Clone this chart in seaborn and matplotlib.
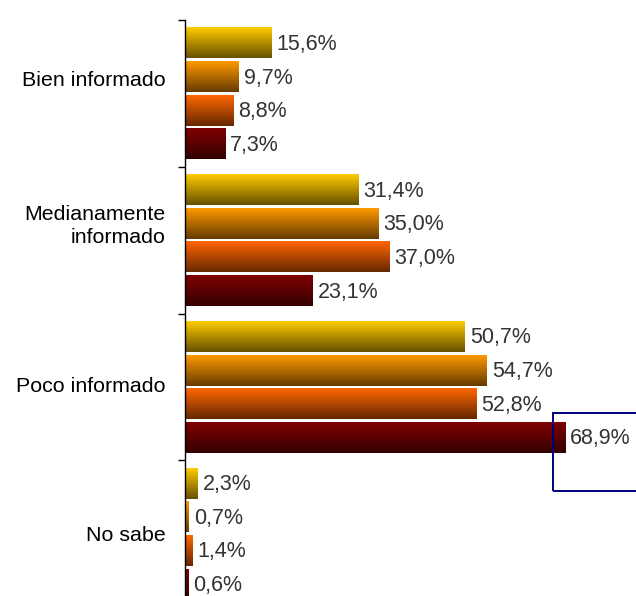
import numpy as np
import pandas as pd
import matplotlib
matplotlib.use("Agg")
import matplotlib.pyplot as plt
import matplotlib.patches as mpatches
import matplotlib.colors as mcolors
import matplotlib.transforms as mtransforms
import seaborn as sns

categories = ["Bien informado", "Medianamente\ninformado", "Poco informado", "No sabe"]
series = ["Serie 1", "Serie 2", "Serie 3", "Serie 4"]
values_s1 = [15.6, 31.4, 50.7, 2.3]
values_s2 = [9.7, 35.0, 54.7, 0.7]
values_s3 = [8.8, 37.0, 52.8, 1.4]
values_s4 = [7.3, 23.1, 68.9, 0.6]
top_colors = ["#FFCC00", "#FF9900", "#FF6600", "#800000"]
bottom_colors = ["#665000", "#663C00", "#662800", "#330000"]

rows = []
for s, vals in zip(series, [values_s1, values_s2, values_s3, values_s4]):
    for c, v in zip(categories, vals):
        rows.append({"cat": c, "serie": s, "val": v})
df = pd.DataFrame(rows)

sns.set_theme(style="white")
plt.rcParams["font.family"] = ["Liberation Sans", "DejaVu Sans"]

fig = plt.figure(figsize=(6.36, 5.96), dpi=100)
ax = fig.add_axes([185 / 636, 1 - 607 / 596, 451 / 636, 587 / 596])

sns.barplot(data=df, y="cat", x="val", hue="serie", orient="h",
            order=categories, hue_order=series, palette=top_colors,
            width=0.917, gap=0.08, legend=False, ax=ax, errorbar=None,
            linewidth=0)

down = mtransforms.ScaledTranslation(0, -1.5 / 100, fig.dpi_scale_trans)

# gradient fill for each bar
ax_patches = [p for p in ax.patches if isinstance(p, mpatches.Rectangle)]
for i, p in enumerate(ax_patches):
    si = i // len(categories)
    c_top = np.array(mcolors.to_rgb(top_colors[si]))
    c_bot = np.array(mcolors.to_rgb(bottom_colors[si]))
    t = np.linspace(0, 1, 64)[:, None]
    grad = (c_top[None, :] * (1 - t) + c_bot[None, :] * t)[:, None, :]
    x0, y0 = p.get_x(), p.get_y()
    w, h = p.get_width(), p.get_height()
    im = ax.imshow(grad, extent=[x0, x0 + w, y0 + h, y0], aspect="auto",
                   interpolation="bilinear", zorder=2, origin="upper")
    im.set_clip_path(p)
    p.set_facecolor("none")
    p.set_edgecolor("none")
    ax.text(x0 + w + 0.9, y0 + h / 2, f"{w:.1f}".replace(".", ",") + "%",
            va="center", ha="left", fontsize=15.5, color="#333333", zorder=3,
            transform=ax.transData + down)

ax.set_xlim(0, 81.7)
ax.set_ylim(3.5, -0.5)

for s in ["top", "right", "bottom"]:
    ax.spines[s].set_visible(False)
ax.spines["left"].set_color("black")
ax.spines["left"].set_linewidth(1.0)
ax.set_xticks([])
ax.set_xlabel("")
ax.set_ylabel("")
ax.set_yticks([])
ax.set_yticks([-0.5, 0.5, 1.5, 2.5, 3.5], minor=True)
ax.tick_params(axis="y", which="minor", length=5, width=1, color="black",
               direction="out", left=True, labelleft=False)

# category labels (Excel-like placement)
label_shift = [0.09, 0.095, 0.0, -0.01]
trans = mtransforms.blended_transform_factory(ax.transAxes, ax.transData)
for i, (c, sh) in enumerate(zip(categories, label_shift)):
    ax.text(-19 / 451, i - sh, c, transform=trans, ha="right", va="center",
            multialignment="right", fontsize=15.4, color="black",
            linespacing=1.28)

rect = mpatches.Rectangle((553 / 636, 1 - 491 / 596), 0.2, 78 / 596,
                          transform=fig.transFigure, fill=False,
                          edgecolor="#000080", linewidth=1.4, clip_on=False)
fig.patches.append(rect)

fig.savefig("out.png", dpi=100)
